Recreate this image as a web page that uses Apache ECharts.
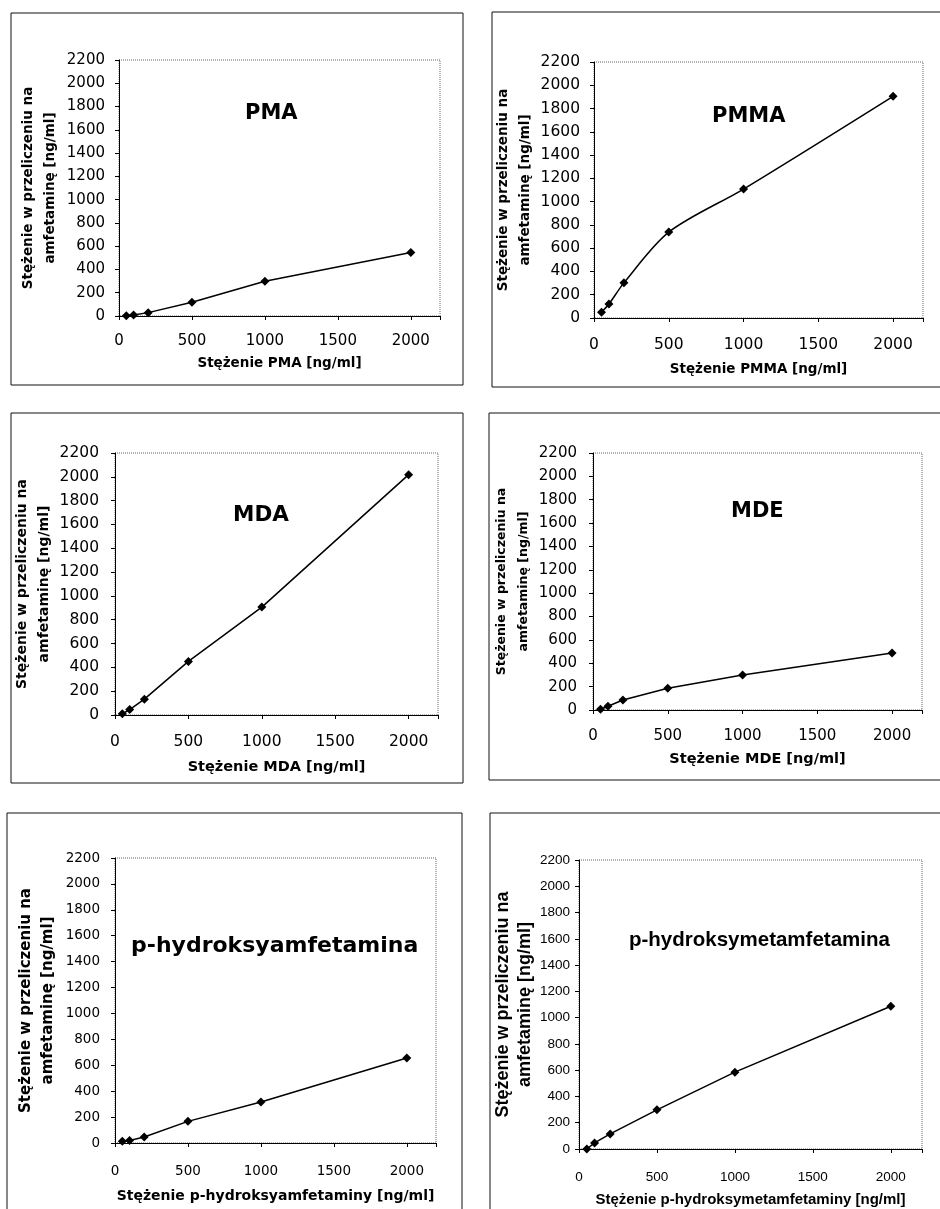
<!DOCTYPE html>
<html>
<head>
<meta charset="utf-8">
<title>Stężenie w przeliczeniu na amfetaminę</title>
<script src="https://cdn.jsdelivr.net/npm/echarts@6/dist/echarts.min.js"></script>
<style>
html, body { margin: 0; padding: 0; background: #fff; }
#main { width: 940px; height: 1209px; }
</style>
</head>
<body>
<div id="main"></div>
<script>
// stężenia wzorców [ng/ml]
var concentrations = [50, 100, 200, 500, 1000, 2000];

// wynik w przeliczeniu na amfetaminę [ng/ml]
var pmaValues = [3, 9, 29, 118, 298, 545];
var pmmaValues = [50, 120, 302, 738, 1108, 1905];
var mdaValues = [10, 46, 133, 450, 906, 2018];
var mdeValues = [6, 32, 86, 186, 300, 488];
var phaValues = [13, 20, 46, 167, 316, 656];
var phmaValues = [0, 46, 115, 298, 585, 1087];

var panelNames = ["PMA", "PMMA", "MDA", "MDE", "p-hydroksyamfetamina", "p-hydroksymetamfetamina"];
var xTitles = [
    "Stężenie PMA [ng/ml]",
    "Stężenie PMMA [ng/ml]",
    "Stężenie MDA [ng/ml]",
    "Stężenie MDE [ng/ml]",
    "Stężenie p-hydroksyamfetaminy [ng/ml]",
    "Stężenie p-hydroksymetamfetaminy [ng/ml]"
];
var yTitle = "Stężenie w przeliczeniu na\namfetaminę [ng/ml]";

var axisMax = 2200;
var xStep = 500;
var yStep = 200;

var seriesValues = [pmaValues, pmmaValues, mdaValues, mdeValues, phaValues, phmaValues];

// rozmieszczenie paneli (px)
var panels = [
    { frame: [11, 13, 452, 372], grid: [119, 60, 321, 256], titlePos: [245, 103], titleSize: 21, font: "DejaVu Sans",
      tickSize: 15, xNameSize: 13.5, yNameSize: 13.5, xLabelMargin: 18, xNameGap: 40, yLabelMargin: 14, yNameGap: 58 },
    { frame: [492, 12, 470, 375], grid: [594, 62, 329, 256], titlePos: [712, 106], titleSize: 21, font: "DejaVu Sans",
      tickSize: 15.5, xNameSize: 13.5, yNameSize: 13.5, xLabelMargin: 19, xNameGap: 44, yLabelMargin: 14, yNameGap: 53 },
    { frame: [11, 413, 452, 370], grid: [115, 453, 323, 262], titlePos: [233, 504], titleSize: 21.5, font: "DejaVu Sans",
      tickSize: 15.5, xNameSize: 14.5, yNameSize: 14, xLabelMargin: 19, xNameGap: 45, yLabelMargin: 16, yNameGap: 52 },
    { frame: [489, 413, 470, 367], grid: [593, 453, 329, 257], titlePos: [731, 501], titleSize: 21, font: "DejaVu Sans",
      tickSize: 15, xNameSize: 14.5, yNameSize: 12.5, xLabelMargin: 18.5, xNameGap: 42, yLabelMargin: 16, yNameGap: 58 },
    { frame: [7, 813, 455, 420], grid: [115, 858, 321, 285], titlePos: [131, 935], titleSize: 22, font: "DejaVu Sans",
      tickSize: 13.5, xNameSize: 14, yNameSize: 15, xLabelMargin: 21, xNameGap: 46, yLabelMargin: 15, yNameGap: 56 },
    { frame: [490, 813, 470, 420], grid: [579, 860, 343, 289], titlePos: [629, 930], titleSize: 20.5, font: "Liberation Sans",
      tickSize: 13.5, xNameSize: 15, yNameSize: 18, xLabelMargin: 21, xNameGap: 43, yLabelMargin: 9, yNameGap: 38 }
];

function plainNumber(v) {
    return String(v);
}

function buildOption() {
    var option = {
        animation: false,
        backgroundColor: "#fff",
        title: [],
        grid: [],
        xAxis: [],
        yAxis: [],
        series: [],
        graphic: []
    };

    panels.forEach(function (p, i) {
        option.graphic.push({
            type: "rect",
            silent: true,
            shape: { x: p.frame[0], y: p.frame[1], width: p.frame[2], height: p.frame[3] },
            style: { fill: "none", stroke: "#111", lineWidth: 1 }
        });

        option.title.push({
            text: panelNames[i],
            left: p.titlePos[0],
            top: p.titlePos[1],
            padding: 0,
            textStyle: { fontFamily: p.font, fontSize: p.titleSize, fontWeight: "bold", color: "#000" }
        });

        option.grid.push({
            left: p.grid[0],
            top: p.grid[1],
            width: p.grid[2],
            height: p.grid[3],
            show: true,
            backgroundColor: "transparent",
            borderColor: "#666",
            borderWidth: 1,
            borderType: "dotted",
            containLabel: false,
            outerBoundsMode: "none"
        });

        option.xAxis.push({
            gridIndex: i,
            type: "value",
            min: 0,
            max: axisMax,
            interval: xStep,
            name: xTitles[i],
            nameLocation: "middle",
            nameGap: p.xNameGap,
            nameTextStyle: { fontFamily: p.font, fontSize: p.xNameSize, fontWeight: "bold", color: "#000" },
            axisLine: { onZero: false, lineStyle: { color: "#000", width: 1 } },
            axisTick: { inside: false, length: 4, lineStyle: { color: "#000" } },
            axisLabel: {
                margin: p.xLabelMargin,
                fontFamily: p.font,
                fontSize: p.tickSize,
                color: "#000",
                formatter: function (v) { return v % xStep === 0 ? plainNumber(v) : ""; }
            },
            splitLine: { show: false }
        });

        option.yAxis.push({
            gridIndex: i,
            type: "value",
            min: 0,
            max: axisMax,
            interval: yStep,
            name: yTitle,
            nameLocation: "middle",
            nameRotate: 90,
            nameGap: p.yNameGap,
            nameTextStyle: { fontFamily: p.font, fontSize: p.yNameSize, fontWeight: "bold", color: "#000", lineHeight: 22 },
            axisLine: { show: true, onZero: false, lineStyle: { color: "#000", width: 1 } },
            axisTick: { show: true, inside: false, length: 4, lineStyle: { color: "#000" } },
            axisLabel: {
                margin: p.yLabelMargin,
                fontFamily: p.font,
                fontSize: p.tickSize,
                color: "#000",
                formatter: plainNumber
            },
            splitLine: { show: false }
        });

        option.series.push({
            name: panelNames[i],
            type: "line",
            xAxisIndex: i,
            yAxisIndex: i,
            data: concentrations.map(function (c, k) { return [c, seriesValues[i][k]]; }),
            symbol: "diamond",
            symbolSize: 9,
            smooth: i === 1 ? 0.3 : false,
            clip: false,
            lineStyle: { color: "#000", width: 1.5 },
            itemStyle: { color: "#000" }
        });
    });

    return option;
}

var chart = echarts.init(document.getElementById("main"));
chart.setOption(buildOption());
</script>
</body>
</html>
